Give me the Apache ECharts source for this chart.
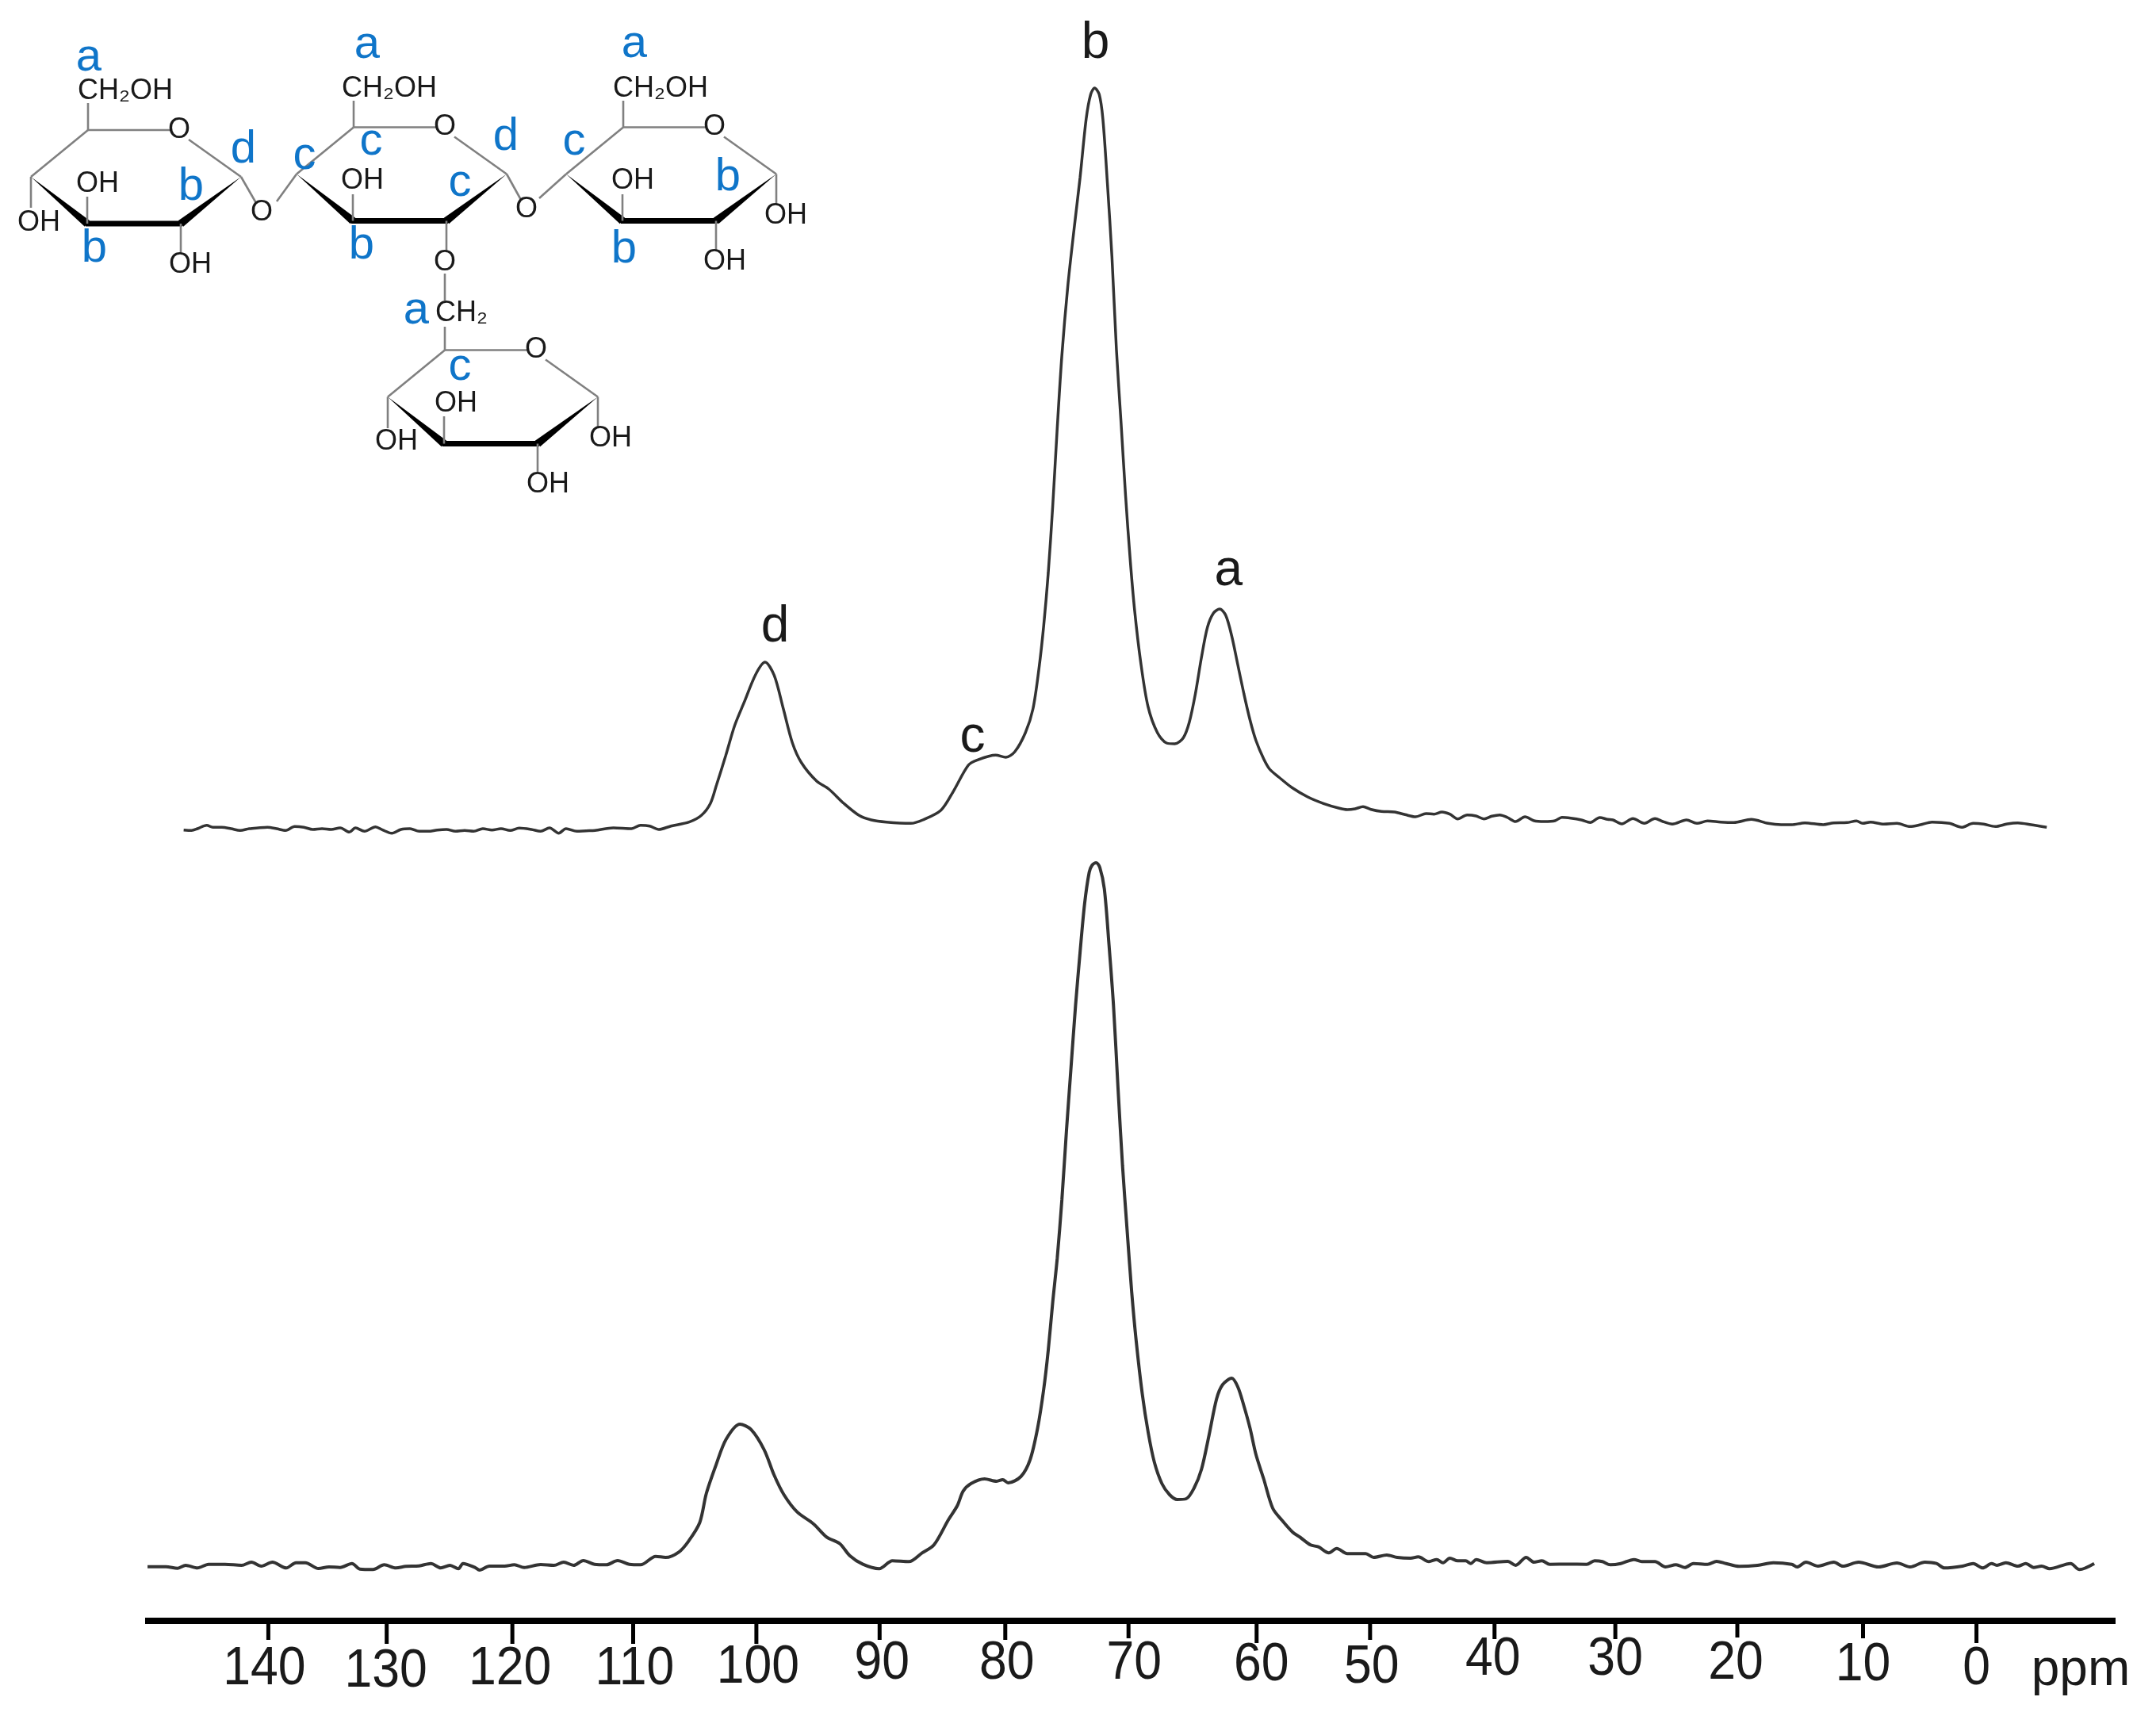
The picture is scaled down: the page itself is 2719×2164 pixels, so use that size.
<!DOCTYPE html>
<html><head><meta charset="utf-8">
<style>html,body{margin:0;padding:0;background:#fff}#c{width:2719px;height:2164px}</style>
<script src="https://cdn.jsdelivr.net/npm/echarts@6/dist/echarts.min.js"></script>
</head><body><div id="c"></div>
<script>
// Upper spectrum: chemical shift (ppm) and intensity (arbitrary units)
const topPpm = [146.94,146.29,145.80,145.05,144.55,143.81,143.06,142.31,141.57,140.82,140.08,139.33,138.58,137.84,137.09,136.35,135.60,134.85,134.11,133.36,132.86,132.12,131.22,130.63,129.88,129.13,128.39,127.64,126.90,126.15,125.40,124.66,123.91,123.17,122.42,121.67,120.93,120.18,119.44,118.44,117.69,116.95,116.2,115.6,114.71,113.96,113.22,111.72,110.23,109.49,108.74,108.0,107.0,105.51,104.51,103.77,103.27,102.52,101.78,101.03,100.04,99.29,98.54,97.80,97.05,96.31,95.06,94.07,92.82,91.58,90.58,89.34,87.35,86.36,84.87,83.87,82.63,81.88,80.39,79.56,78.82,77.95,77.33,76.83,76.45,76.08,75.71,75.34,74.96,74.47,73.97,73.47,72.97,72.60,72.28,71.9,71.6,71.23,70.86,70.49,70.11,69.74,69.37,69.0,68.5,67.9,67.13,66.38,65.71,65.01,64.52,64.02,63.52,63.03,62.53,62.03,61.53,61.04,60.54,60.04,59.54,59.05,58.42,57.93,57.18,56.1,54.81,53.51,52.22,51.57,50.93,50.28,49.63,48.77,47.69,46.83,45.97,45.11,44.46,43.81,43.17,42.52,41.74,41.01,40.37,39.72,39.07,38.43,37.78,37.0,36.27,35.41,34.54,33.98,33.25,32.39,31.66,30.88,30.23,29.8,29.07,28.16,27.22,26.35,25.71,24.93,23.77,22.91,22.04,20.96,19.89,18.46,17.08,16.01,15.15,14.07,12.56,11.7,10.62,9.84,9.33,8.68,7.6,6.52,5.45,4.58,3.64,2.21,1.22,0.27,-0.59,-1.54,-2.53,-3.39,-4.47,-5.76];
const topIntensity = [-1.7,-2.3,0,4.3,1.7,1.7,0,-2.3,0,1,1.7,0,-2.3,2.7,1.7,-1,0,-1,1,-4.3,1,-3.3,2.3,-1.7,-5.7,-1,0,-3.3,-3.3,-1.7,-1,-3.3,-2.3,-3.3,0,-1.7,0,-2.3,0.7,-1,-3.3,1,-5.7,0,-3.3,-2.7,-2.3,1,0,4.3,3.3,-1,3.3,8.3,16.7,31.7,55,91.7,130,158.3,195,210,193.3,151.7,108.3,83.3,60,50,31.7,16.7,11,8.3,6.7,11,23.3,46.7,80,86.7,92.7,90,97,121,151,203,256,322,407,505.5,597,685,755,821,895,926,934,926,895,814,722,604,512,420,341,275.5,210,154,121,108,107,114.6,134,170,216,254,272,277,269,243,206.5,170,137,111,88,75,65,51.7,40,31.7,25.7,24,25,27.7,24.3,21.7,21,17.7,15,19,18.3,21,18.3,12.3,17.3,16,12.3,15.7,17.3,14,9,15,10,9,10,14.3,13.3,11,7.7,14,11.7,11,6,12.7,6.7,12.7,9,5.7,11,6.7,9.7,8.3,7.7,11.7,6.7,5,5,7.3,5,7.3,7.7,9.7,6.7,8.3,5.7,6.7,2.7,5,8.3,6.7,1.7,6.7,5.7,2.7,6,7.3,5,1.7];

// Lower spectrum
const bottomPpm = [149.9,148.4,147.43,146.78,145.81,144.9,143.55,142.2,141.39,140.58,139.67,138.53,137.73,136.97,135.89,135.03,134.12,133.15,132.5,131.42,130.5,129.54,128.73,127.65,126.68,125.87,125.12,124.42,124.04,123.07,122.69,121.88,120.64,119.84,119.03,117.68,116.6,115.79,114.98,114.18,113.26,112.29,111.37,110.41,109.49,108.25,107.44,106.36,105.55,104.64,104.1,103.29,102.48,101.35,100.44,99.36,98.55,97.74,96.66,95.32,94.24,93.16,92.35,91.27,89.93,88.85,87.5,86.42,85.45,84.27,83.54,83.05,82.42,81.3,80.31,79.81,79.36,78.32,77.57,76.95,76.45,76.08,75.71,75.34,74.96,74.59,74.22,73.84,73.47,73.1,72.72,72.48,72.15,71.85,71.48,71.11,70.73,70.36,69.99,69.62,69.24,68.87,68.37,67.88,67.38,66.76,66.13,65.51,64.77,64.14,63.52,62.9,62.28,61.78,61.04,60.54,60.04,59.54,59.05,58.42,57.68,56.93,56.06,55.44,54.58,53.94,53.08,52.43,51.57,50.06,49.41,48.33,47.47,46.39,45.75,44.88,44.24,43.72,43.16,42.51,41.87,41.44,41.0,40.14,38.42,37.77,36.91,36.26,35.62,34.97,33.46,31.95,31.3,30.66,30.01,29.15,28.07,27.43,26.35,25.49,24.62,23.89,23.2,22.04,21.3,20.53,19.45,17.94,16.65,15.14,14.71,13.97,12.98,11.69,10.96,9.66,8.03,6.52,5.44,4.23,3.28,2.64,1.13,0.27,-0.51,-1.24,-1.67,-2.41,-3.4,-4.04,-4.69,-5.34,-5.99,-7.71,-8.44,-9.65];
const bottomIntensity = [-0.7,-0.7,-2.7,1,-2.3,2.3,2.3,1,5,0,5,-2.3,4.3,4.3,-3,-1,-1.7,3.3,-3.7,-4.3,1.7,-2.3,-0.3,0.3,3.3,-2.3,1,-3.3,3.3,-1.7,-5,0,0,1.7,-1.7,2,1,5,1,7,2.3,1.7,7,2.3,1.7,12.3,11,17.7,31.7,55,91.7,128.3,160,179,172.3,146.7,115,90,68.3,53.3,36.7,28.3,13.3,2.3,-3.3,6.7,5.7,16.7,26.7,58.3,76,94.6,104,110,107,109,105,113,134,174,223,272,333,388.5,462,548,627,707,774,835,875,884,887,881,854,786,707,603,505,425,346,284,217,168,131,104,90,84,85,98,122,165,211,229,237,226,202,174,140.5,110,73,58,43,36.5,26.7,24.3,16.7,22.3,15.7,15.7,11,14,11,10,11.7,5.7,8.3,4.3,10,6.7,6.7,3.3,8.3,4.3,6,1,11,5,6.7,2.3,2.5,2.3,6.7,5.7,1.7,3.3,8.3,5.7,5.7,-1,1.7,-1.7,3.3,2.3,6,3.3,-0.3,1,4.3,2.3,-1,5,0,5,0,5,-1,4,-1,5,3.3,-2.3,0,3.3,-2.3,3.3,1,4.3,0,3.3,-1.7,0,-3.3,3.3,-4.3,3.3];

// Axis ticks as drawn (hand-placed in the figure) and their labels
const tickLabels = ['140','130','120','110','100','90','80','70','60','50','40','30','20','10','0'];
const tickPpm = [140,130.3,120,110.1,100,89.9,79.6,69.5,59,49.7,39.5,29.6,19.6,9.3,0];

// Peak assignments on the upper spectrum
const peakNames = ['d','c','b','a'];
const peakPpm = [98.47,82.28,72.2,61.3];
const peakHeight = [254,115,990,325];

// Layout only
const tickLength = [24,29,29,29,29,24,24,22,28,24,23,23,21,22,28];
const labelDx = [-5,-1,-3,2,2,3,2,7,6,2,-2,0,-2,0,0];
const labelDy = [61,64,61,61,59,54,54,54,56,59,49,49,54,56,61];
const BLUE = '#0f75c9', INK = '#1a1a1a', BOND = '#808080', TRACE = '#333333';
const FONT = '"Liberation Sans", Arial, sans-serif';

// ---- structure drawing ----
const shapes = [];
const thin = (x1,y1,x2,y2) => shapes.push({type:'line',silent:true,shape:{x1,y1,x2,y2},style:{stroke:BOND,lineWidth:2.6}});
const txt = (text,x,y,size,fill) => shapes.push({type:'text',silent:true,x,y,style:{text,x:0,y:0,align:'center',verticalAlign:'middle',font:`${size}px ${FONT}`,fill}});
const chem = (t,x,y) => txt(t,x,y,36,INK);
const blue = (t,x,y) => txt(t,x,y,58,BLUE);
function ring(dx,dy){
  const p = (x,y)=>[x+dx,y+dy];
  const C5=p(111,164),C1=p(304,223),C2=p(228,282),C3=p(110,282),C4=p(39,223);
  thin(C5[0],C5[1],C5[0]+103,C5[1]);
  thin(C5[0]+127,C5[1]+12,C1[0],C1[1]);
  thin(C4[0],C4[1],C5[0],C5[1]);
  // solid wedge bonds on the front of the ring
  shapes.push({type:'polygon',silent:true,shape:{points:[C1,[C2[0]+3.2,C2[1]+3.8],[C2[0]-3.2,C2[1]-3.8]]},style:{fill:'#000'}});
  shapes.push({type:'polygon',silent:true,shape:{points:[C4,[C3[0]-3.2,C3[1]+3.8],[C3[0]+3.2,C3[1]-3.8]]},style:{fill:'#000'}});
  shapes.push({type:'line',silent:true,shape:{x1:C3[0]-2,y1:C3[1],x2:C2[0]+2,y2:C2[1]},style:{stroke:'#000',lineWidth:7}});
  chem('O',C5[0]+115,C5[1]);
}
[[0,0],[335,-3.5],[675,-3.5],[450,277.5]].forEach(o=>ring(o[0],o[1]));
// substituent bonds
[[111,164,111,130],[446,160.5,446,127],[786,160.5,786,127],[561,441.5,561,412],[561,345,561,379],[563,278.5,563,316],
 [39,223,39,262],[110,282,110,248],[228,282,228,319],[304,223,323,256],[349,254,374,219.5],[445,278.5,445,245],
 [639,219.5,657,252],[680,250,714,219.5],[785,278.5,785,245],[979,219.5,979,258],[903,278.5,903,315],
 [489,500.5,489,540],[560,559.5,560,525],[678,559.5,678,595],[754,500.5,754,540]].forEach(b=>thin(b[0],b[1],b[2],b[3]));
[['CH\u2082OH',158,115],['CH\u2082OH',491,112],['CH\u2082OH',833,112],['CH\u2082',582,395],
 ['OH',49,281],['OH',123,232],['OH',240,334],['O',330,268],['OH',457,228.5],['O',664,264.5],['O',561,331],
 ['OH',798,228.5],['OH',991,272],['OH',914,330],['OH',500,557],['OH',575,509.5],['OH',691,610.6],['OH',770,553]]
 .forEach(t=>chem(t[0],t[1],t[2]));
[['a',112,73],['a',463,57],['a',800,55.5],['d',307,189],['c',384,197],['c',468,179],['d',638,173],['c',724,179],
 ['b',241,236],['c',580,231],['b',918,224],['b',119,314],['b',456,310],['b',787,315],['a',525,392],['c',580,463]]
 .forEach(t=>blue(t[0],t[1],t[2]));
shapes.push({type:'text',silent:true,x:2624,y:2107,style:{text:'ppm',x:0,y:0,align:'center',verticalAlign:'middle',font:`64px ${FONT}`,fill:INK}});

const xAxisBase = {type:'value',inverse:true,min:-11.4,max:150.1,splitLine:{show:false},axisTick:{show:false},axisLabel:{show:false}};
const yAxisBase = {type:'value',show:false,splitLine:{show:false}};
const zip = (a,b)=>a.map((v,i)=>[v,b[i]]);
const lineSeries = (name,i,xs,ys,w)=>({name,type:'line',xAxisIndex:i,yAxisIndex:i,data:zip(xs,ys),showSymbol:false,smooth:0.3,clip:false,lineStyle:{color:TRACE,width:w},silent:true});

const chart = echarts.init(document.getElementById('c'),null,{renderer:'canvas'});
chart.setOption({
  animation:false,backgroundColor:'#fff',
  grid:[{left:183,width:2485,top:0,height:1100},{left:183,width:2485,top:1060,height:984}],
  xAxis:[Object.assign({},xAxisBase,{gridIndex:0,axisLine:{show:false}}),
         Object.assign({},xAxisBase,{gridIndex:1,position:'bottom',axisLine:{show:true,onZero:false,lineStyle:{color:'#000',width:8,cap:'butt'}}})],
  yAxis:[Object.assign({},yAxisBase,{gridIndex:0,min:-55,max:1045}),Object.assign({},yAxisBase,{gridIndex:1,min:-69,max:915})],
  series:[
    lineSeries('upper',0,topPpm,topIntensity,3.5),
    lineSeries('lower',1,bottomPpm,bottomIntensity,4),
    {type:'custom',name:'ticks',xAxisIndex:1,yAxisIndex:1,clip:false,silent:true,
     data:tickPpm.map(v=>[v,-69]),
     renderItem:(p,api)=>{
       const i=p.dataIndex, c=api.coord([api.value(0),api.value(1)]);
       return {type:'group',children:[
         {type:'line',shape:{x1:c[0],y1:c[1],x2:c[0],y2:c[1]+tickLength[i]},style:{stroke:'#000',lineWidth:5}},
         {type:'text',x:c[0]+labelDx[i],y:c[1]+labelDy[i],scaleX:0.92,style:{text:tickLabels[i],x:0,y:0,align:'center',verticalAlign:'middle',font:`68px ${FONT}`,fill:INK}}
       ]};
     }},
    {type:'custom',name:'peaks',xAxisIndex:0,yAxisIndex:0,clip:false,silent:true,
     data:zip(peakPpm,peakHeight),
     renderItem:(p,api)=>{
       const c=api.coord([api.value(0),api.value(1)]);
       return {type:'text',x:c[0],y:c[1],style:{text:peakNames[p.dataIndex],x:0,y:0,align:'center',verticalAlign:'middle',font:`64px ${FONT}`,fill:INK}};
     }}
  ],
  graphic:{elements:shapes}
});
</script></body></html>
